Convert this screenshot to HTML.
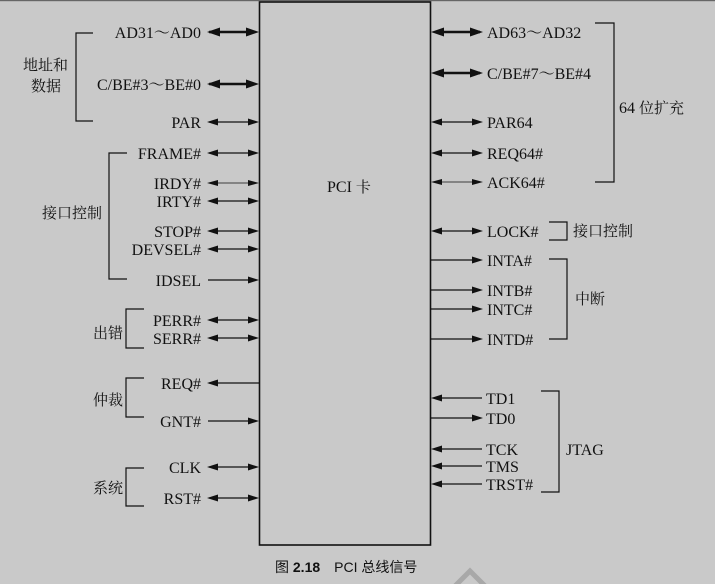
<!DOCTYPE html>
<html><head><meta charset="utf-8"><style>
html,body{margin:0;padding:0;background:#c9c9c9;}
svg{display:block;}
text{font-family:"Liberation Serif","Noto Serif CJK SC",serif;font-size:16px;fill:#111;}
.cn{font-size:15px;}
.cap{font-family:"Liberation Sans","Noto Sans CJK SC",sans-serif;font-size:14px;}
</style></head><body>
<svg width="715" height="584" viewBox="0 0 715 584" xmlns="http://www.w3.org/2000/svg">
<rect width="715" height="584" fill="#c9c9c9"/>
<rect x="0" y="0" width="715" height="1.2" fill="#666"/>
<rect x="259.5" y="2" width="171" height="543" fill="none" stroke="#111" stroke-width="1.6"/>
<text x="327" y="192">PCI <tspan class="cn">卡</tspan></text>
<g stroke="#111" fill="none">
<line x1="209" y1="32" x2="250" y2="32" stroke-width="2.5"/>
<line x1="209" y1="84" x2="250" y2="84" stroke-width="2.5"/>
<line x1="209" y1="122" x2="250" y2="122" stroke-width="1.2"/>
<line x1="209" y1="153" x2="250" y2="153" stroke-width="1.2"/>
<line x1="209" y1="183" x2="250" y2="183" stroke-width="0.8"/>
<line x1="209" y1="201" x2="250" y2="201" stroke-width="1.2"/>
<line x1="209" y1="231" x2="250" y2="231" stroke-width="1.2"/>
<line x1="209" y1="249" x2="250" y2="249" stroke-width="1.2"/>
<line x1="208" y1="280" x2="250" y2="280" stroke-width="1.2"/>
<line x1="209" y1="320" x2="250" y2="320" stroke-width="1.2"/>
<line x1="209" y1="338" x2="250" y2="338" stroke-width="1.2"/>
<line x1="209" y1="383" x2="259" y2="383" stroke-width="1.2"/>
<line x1="208" y1="421" x2="250" y2="421" stroke-width="1.2"/>
<line x1="209" y1="467" x2="250" y2="467" stroke-width="1.2"/>
<line x1="209" y1="498" x2="250" y2="498" stroke-width="1.2"/>
<line x1="440" y1="32" x2="480" y2="32" stroke-width="2.5"/>
<line x1="440" y1="73" x2="480" y2="73" stroke-width="2.5"/>
<line x1="440" y1="122" x2="480" y2="122" stroke-width="1.2"/>
<line x1="440" y1="153" x2="480" y2="153" stroke-width="1.2"/>
<line x1="440" y1="182" x2="480" y2="182" stroke-width="0.8"/>
<line x1="440" y1="231" x2="480" y2="231" stroke-width="1.2"/>
<line x1="431" y1="260" x2="480" y2="260" stroke-width="1.2"/>
<line x1="431" y1="290" x2="480" y2="290" stroke-width="1.2"/>
<line x1="431" y1="309" x2="480" y2="309" stroke-width="1.2"/>
<line x1="431" y1="339" x2="480" y2="339" stroke-width="1.2"/>
<line x1="440" y1="398" x2="482" y2="398" stroke-width="1.2"/>
<line x1="431" y1="418" x2="480" y2="418" stroke-width="1.2"/>
<line x1="440" y1="449" x2="482" y2="449" stroke-width="1.2"/>
<line x1="440" y1="466" x2="482" y2="466" stroke-width="1.2"/>
<line x1="440" y1="484" x2="482" y2="484" stroke-width="1.2"/>
<g stroke-width="1.2">
<polyline points="93,33 76,33 76,121 93,121"/>
<polyline points="127,153 109,153 109,279 127,279"/>
<polyline points="144,309 126,309 126,348 144,348"/>
<polyline points="144,378 126,378 126,417 144,417"/>
<polyline points="144,468 126,468 126,506 144,506"/>
<polyline points="595,23 614,23 614,182 595,182"/>
<polyline points="549,222 567,222 567,240 549,240"/>
<polyline points="549,259 567,259 567,339 549,339"/>
<polyline points="541,391 559,391 559,492 541,492"/>
</g>
<polyline points="455,586 470,571 485,586" stroke="#a8a8a8" stroke-width="5"/>
</g>
<g fill="#111">
<polygon points="207,32 220,27.5 220,36.5"/><polygon points="259,32 246,27.5 246,36.5"/>
<polygon points="207,84 220,79.5 220,88.5"/><polygon points="259,84 246,79.5 246,88.5"/>
<polygon points="207,122 218,118.5 218,125.5"/><polygon points="259,122 248,118.5 248,125.5"/>
<polygon points="207,153 218,149.5 218,156.5"/><polygon points="259,153 248,149.5 248,156.5"/>
<polygon points="207,183 218,180 218,186"/><polygon points="259,183 248,180 248,186"/>
<polygon points="207,201 218,197.5 218,204.5"/><polygon points="259,201 248,197.5 248,204.5"/>
<polygon points="207,231 218,227.5 218,234.5"/><polygon points="259,231 248,227.5 248,234.5"/>
<polygon points="207,249 218,245.5 218,252.5"/><polygon points="259,249 248,245.5 248,252.5"/>
<polygon points="259,280 248,276.5 248,283.5"/>
<polygon points="207,320 218,316.5 218,323.5"/><polygon points="259,320 248,316.5 248,323.5"/>
<polygon points="207,338 218,334.5 218,341.5"/><polygon points="259,338 248,334.5 248,341.5"/>
<polygon points="207,383 218,379.5 218,386.5"/>
<polygon points="259,421 248,417.5 248,424.5"/>
<polygon points="207,467 218,463.5 218,470.5"/><polygon points="259,467 248,463.5 248,470.5"/>
<polygon points="207,498 218,494.5 218,501.5"/><polygon points="259,498 248,494.5 248,501.5"/>
<polygon points="431,32 444,27.5 444,36.5"/><polygon points="483,32 470,27.5 470,36.5"/>
<polygon points="431,73 444,68.5 444,77.5"/><polygon points="483,73 470,68.5 470,77.5"/>
<polygon points="431,122 442,118.5 442,125.5"/><polygon points="483,122 472,118.5 472,125.5"/>
<polygon points="431,153 442,149.5 442,156.5"/><polygon points="483,153 472,149.5 472,156.5"/>
<polygon points="431,182 442,179 442,185"/><polygon points="483,182 472,179 472,185"/>
<polygon points="431,231 442,227.5 442,234.5"/><polygon points="483,231 472,227.5 472,234.5"/>
<polygon points="483,260 472,256.5 472,263.5"/>
<polygon points="483,290 472,286.5 472,293.5"/>
<polygon points="483,309 472,305.5 472,312.5"/>
<polygon points="483,339 472,335.5 472,342.5"/>
<polygon points="431,398 442,394.5 442,401.5"/>
<polygon points="483,418 472,414.5 472,421.5"/>
<polygon points="431,449 442,445.5 442,452.5"/>
<polygon points="431,466 442,462.5 442,469.5"/>
<polygon points="431,484 442,480.5 442,487.5"/>
</g>
<g text-anchor="end">
<text x="201" y="38">AD31～AD0</text>
<text x="201" y="90">C/BE#3～BE#0</text>
<text x="201" y="128">PAR</text>
<text x="201" y="159">FRAME#</text>
<text x="201" y="189">IRDY#</text>
<text x="201" y="207">IRTY#</text>
<text x="201" y="237">STOP#</text>
<text x="201" y="255">DEVSEL#</text>
<text x="201" y="286">IDSEL</text>
<text x="201" y="326">PERR#</text>
<text x="201" y="344">SERR#</text>
<text x="201" y="389">REQ#</text>
<text x="201" y="427">GNT#</text>
<text x="201" y="473">CLK</text>
<text x="201" y="504">RST#</text>
<text class="cn" x="123" y="338">出错</text>
<text class="cn" x="123" y="405">仲裁</text>
<text class="cn" x="123" y="493">系统</text>
</g>
<text class="cn" x="23" y="70">地址和</text>
<text class="cn" x="31" y="91">数据</text>
<text class="cn" x="42" y="218">接口控制</text>
<g>
<text x="487" y="38">AD63～AD32</text>
<text x="487" y="79">C/BE#7～BE#4</text>
<text x="487" y="128">PAR64</text>
<text x="487" y="159">REQ64#</text>
<text x="487" y="188">ACK64#</text>
<text x="487" y="237">LOCK#</text>
<text x="487" y="266">INTA#</text>
<text x="487" y="296">INTB#</text>
<text x="487" y="315">INTC#</text>
<text x="487" y="345">INTD#</text>
<text x="486" y="404">TD1</text>
<text x="486" y="424">TD0</text>
<text x="486" y="455">TCK</text>
<text x="486" y="472">TMS</text>
<text x="486" y="490">TRST#</text>
<text x="619" y="113">64 <tspan class="cn">位扩充</tspan></text>
<text class="cn" x="573" y="236">接口控制</text>
<text class="cn" x="575" y="304">中断</text>
<text x="566" y="455">JTAG</text>
</g>
<text class="cap" x="275" y="572">图 <tspan font-weight="bold">2.18</tspan>　PCI 总线信号</text>
</svg>
</body></html>
